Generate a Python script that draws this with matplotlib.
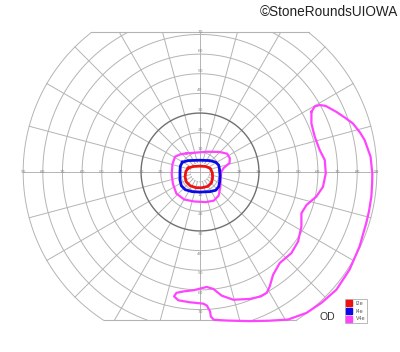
import matplotlib.pyplot as plt
import numpy as np
from matplotlib.lines import Line2D

# Goldmann chart, right eye (degrees of eccentricity, x = temporal right, y = up)
rings = [10, 20, 30, 40, 50, 60, 70, 80, 90]
h_labels = [10, 20, 30, 40, 50, 60, 70, 80, 90]
v_labels = [10, 20, 30, 40, 50, 60, 70]
meridian_step = 15
top_cut = 71
bottom_cut = -75.5

isopter_names = ["I2e", "I4e", "V4e"]
isopter_colors = ["#ee1111", "#0a0ae6", "#ff44ff"]

i2e_x = [-6, -3.5, 0, 3, 5.3, 6.3, 6.4, 5.8, 4, 1, -2, -5, -7, -7.6, -7.2]
i2e_y = [2, 2.8, 3, 2.8, 1.8, -0.5, -3, -5.5, -7.3, -8, -8, -7, -5, -2.5, 0.3]

i4e_x = [-9, -6, 0, 5, 8, 9.5, 10, 10.2, 10, 9.5, 8, 5, 0, -4, -7.5, -9.5, -10.2, -10.2, -10]
i4e_y = [5, 5.8, 6, 5.8, 5, 3.5, 1, -2, -5, -7.5, -9.3, -10, -10.2, -10, -9, -7, -4, 0, 3]

v4e_central_x = [-6.8, 3.4, 10, 13.8, 15.2, 15, 12, 10.8, 10.5, 10.3, 9.5, 7, 3, -3, -8,
                 -12, -13.8, -14.4, -14, -12.7, -10]
v4e_central_y = [9.5, 10.3, 10.2, 9.3, 7, 4.5, 2, 0, -4, -8, -12, -14.6, -15.3, -15, -14,
                 -11, -6, -1, 4, 7.8, 9]

v4e_temporal_x = [56.7, 58.4, 61, 64, 69.4, 74, 77.8, 81.5, 83.8, 86.8, 87.7, 87.6, 87.2, 86,
                  84.6, 81.2, 76.1, 69.4, 61.8, 54.2, 44.8, 35, 25, 13.6, 7, 5.5, 5.1, 3.5,
                  1.7, -5.1, -11, -13.2, -12, -8, -3.4, 3.4, 6.8, 11, 16.9, 25.4, 31, 34,
                  35.5, 37.2, 40.6, 46.5, 49.9, 51.6, 51.6, 54.2, 59.2, 62.6, 64, 63.5, 60.9,
                  58.4, 56.7]
v4e_temporal_y = [30.6, 33.4, 34.1, 33.6, 30.6, 27.5, 24.7, 20, 16.2, 7.8, -0.7, -6, -12.5,
                  -20, -26, -37.9, -49.7, -59.9, -66.6, -71.7, -75.1, -75.7, -75.9, -75.6,
                  -75.2, -73.5, -70.9, -68, -67, -66.3, -65.3, -63.3, -61.5, -60.7, -60.2,
                  -58.5, -59.5, -62.9, -65, -64.6, -63.3, -61.5, -58.2, -52.3, -46.3, -41.3,
                  -35.4, -27.8, -21, -16.8, -12.5, -7.5, -0.7, 6.1, 11.2, 17.9, 24.7]


def cut(x, y):
    x = np.asarray(x, dtype=float)
    y = np.asarray(y, dtype=float)
    out = (y > top_cut) | (y < bottom_cut)
    x[out] = np.nan
    y[out] = np.nan
    return x, y


def closed(xs, ys):
    return list(xs) + [xs[0]], list(ys) + [ys[0]]


fig = plt.figure(figsize=(4, 3.52), dpi=100)
ax = fig.add_axes([0, 0, 1, 1])
ax.set_xlim(-200 / 1.965, 200 / 1.965)
ax.set_ylim(-180 / 1.965, 172 / 1.965)
ax.axis("off")

grid_color = "#b4b4b4"
t = np.linspace(0, 2 * np.pi, 1441)
for r in rings:
    x, y = cut(r * np.cos(t), r * np.sin(t))
    if r == 30:
        ax.plot(x, y, color="#707070", lw=1.0, zorder=2)
    else:
        ax.plot(x, y, color=grid_color, lw=0.7, zorder=1)

# small central ring
ax.plot(5 * np.cos(t), 5 * np.sin(t), color=grid_color, lw=0.6, ls=(0, (1.5, 1.5)), zorder=1)

for a in range(0, 360, meridian_step):
    r = np.linspace(0 if a % 90 == 0 else 5, 90, 400)
    x, y = cut(r * np.cos(np.radians(a)), r * np.sin(np.radians(a)))
    ax.plot(x, y, color=grid_color, lw=0.7, zorder=1)

for yc in [top_cut, bottom_cut]:
    half = np.sqrt(90 ** 2 - yc ** 2)
    ax.plot([-half, half], [yc, yc], color=grid_color, lw=0.8, zorder=1)

label_kw = dict(fontsize=3.2, color="#8a8a8a", ha="center", va="center", zorder=3)
for v in h_labels:
    ax.text(v, 0, str(v), **label_kw)
    ax.text(-v, 0, str(v), **label_kw)
for v in v_labels:
    ax.text(0, v + 1.5, str(v), **label_kw)
    ax.text(0, -v - 1.5, str(v), **label_kw)

ax.plot(*closed(v4e_temporal_x, v4e_temporal_y), color=isopter_colors[2], lw=1.6,
        solid_joinstyle="round", clip_on=False, zorder=4)
ax.plot(*closed(v4e_central_x, v4e_central_y), color=isopter_colors[2], lw=1.6,
        solid_joinstyle="round", zorder=4)
ax.plot(*closed(i4e_x, i4e_y), color=isopter_colors[1], lw=2.0, solid_joinstyle="round", zorder=5)
ax.plot(*closed(i2e_x, i2e_y), color=isopter_colors[0], lw=2.0, solid_joinstyle="round", zorder=6)

handles = [Line2D([], [], ls="none", marker="s", markersize=4, color=c) for c in isopter_colors]
leg = ax.legend(handles, isopter_names, loc="upper left", bbox_to_anchor=(0.8625, 0.151),
                fontsize=3.6, frameon=True, fancybox=False, edgecolor="#999999",
                borderpad=0.4, labelspacing=0.55, handlelength=0.9, handletextpad=0.8,
                borderaxespad=0)
leg.get_frame().set_linewidth(0.6)
for txt in leg.get_texts():
    txt.set_color("#555555")

ax.text(0.8, 0.1, "OD", transform=ax.transAxes, fontsize=7.5, color="#333333",
        ha="left", va="center", family="Liberation Sans")
fig.text(0.995, 0.965, "©StoneRoundsUIOWA", fontsize=9.8, color="#222222",
         ha="right", va="center", family="Liberation Sans")

fig.savefig("out.png", dpi=100)
